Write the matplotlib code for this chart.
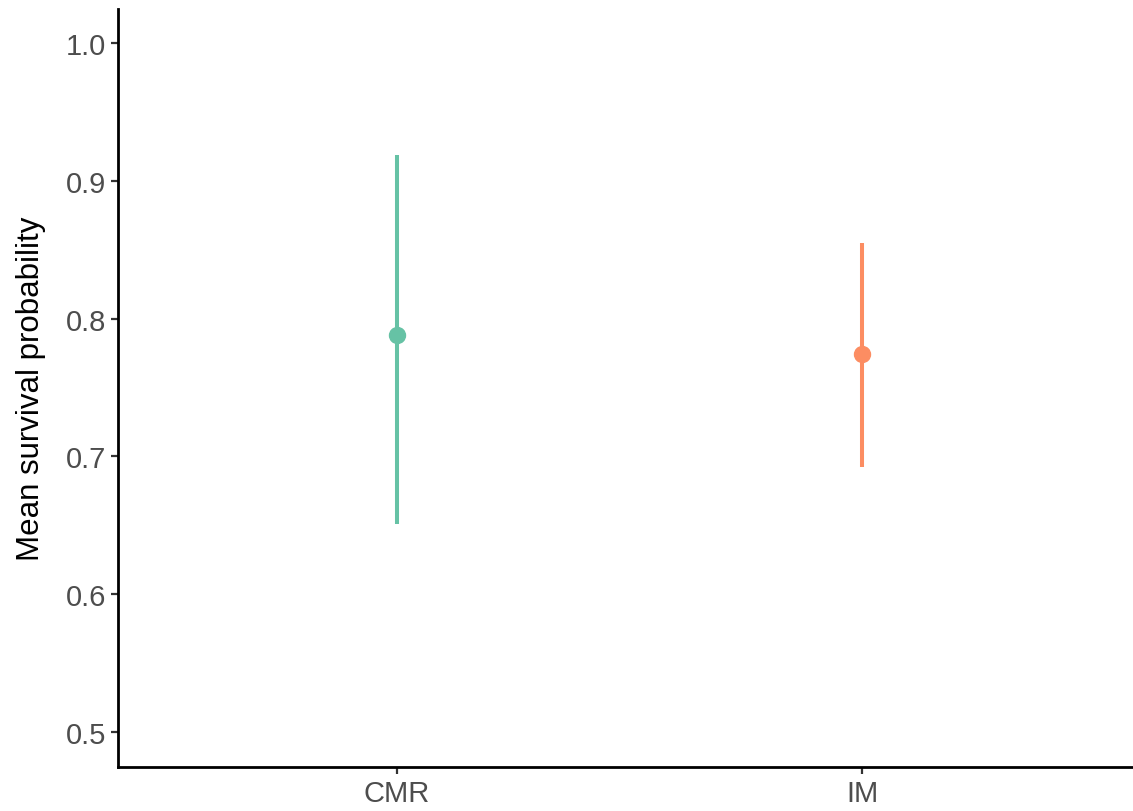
import numpy as np
import matplotlib.pyplot as plt

plt.rcParams['font.family'] = ['Liberation Sans', 'DejaVu Sans']

# survival estimates per method
methods = ['CMR', 'IM']
means = [0.788, 0.774]
lower = [0.651, 0.692]
upper = [0.919, 0.855]
colors = ['#66C2A5', '#FC8D62']

fig = plt.figure(figsize=(11.33, 8.12), dpi=100)
ax = fig.add_axes([0.1041, 0.0542, 0.903, 0.9335])

x = np.arange(1, len(methods) + 1)
for xi, m, lo, hi, c in zip(x, means, lower, upper, colors):
    ax.vlines(xi, lo, hi, color=c, lw=2.9)
    ax.plot(xi, m, 'o', color=c, ms=11.5)

ax.set_xlim(0.4, 2.6)
ax.set_ylim(0.4746, 1.0247)
ax.set_xticks(x)
ax.set_xticklabels(methods)
ax.set_yticks([0.5, 0.6, 0.7, 0.8, 0.9, 1.0])
ax.set_yticklabels(['0.5', '0.6', '0.7', '0.8', '0.9', '1.0'])
ax.set_ylabel('Mean survival probability', fontsize=22.5, color='black', labelpad=14)

for s in ['top', 'right']:
    ax.spines[s].set_visible(False)
for s in ['left', 'bottom']:
    ax.spines[s].set_linewidth(2)
    ax.spines[s].set_color('black')
ax.tick_params(axis='both', labelsize=21, labelcolor='#4D4D4D', color='#333333',
               length=5, width=1.6)

fig.savefig('out.png', dpi=100)
